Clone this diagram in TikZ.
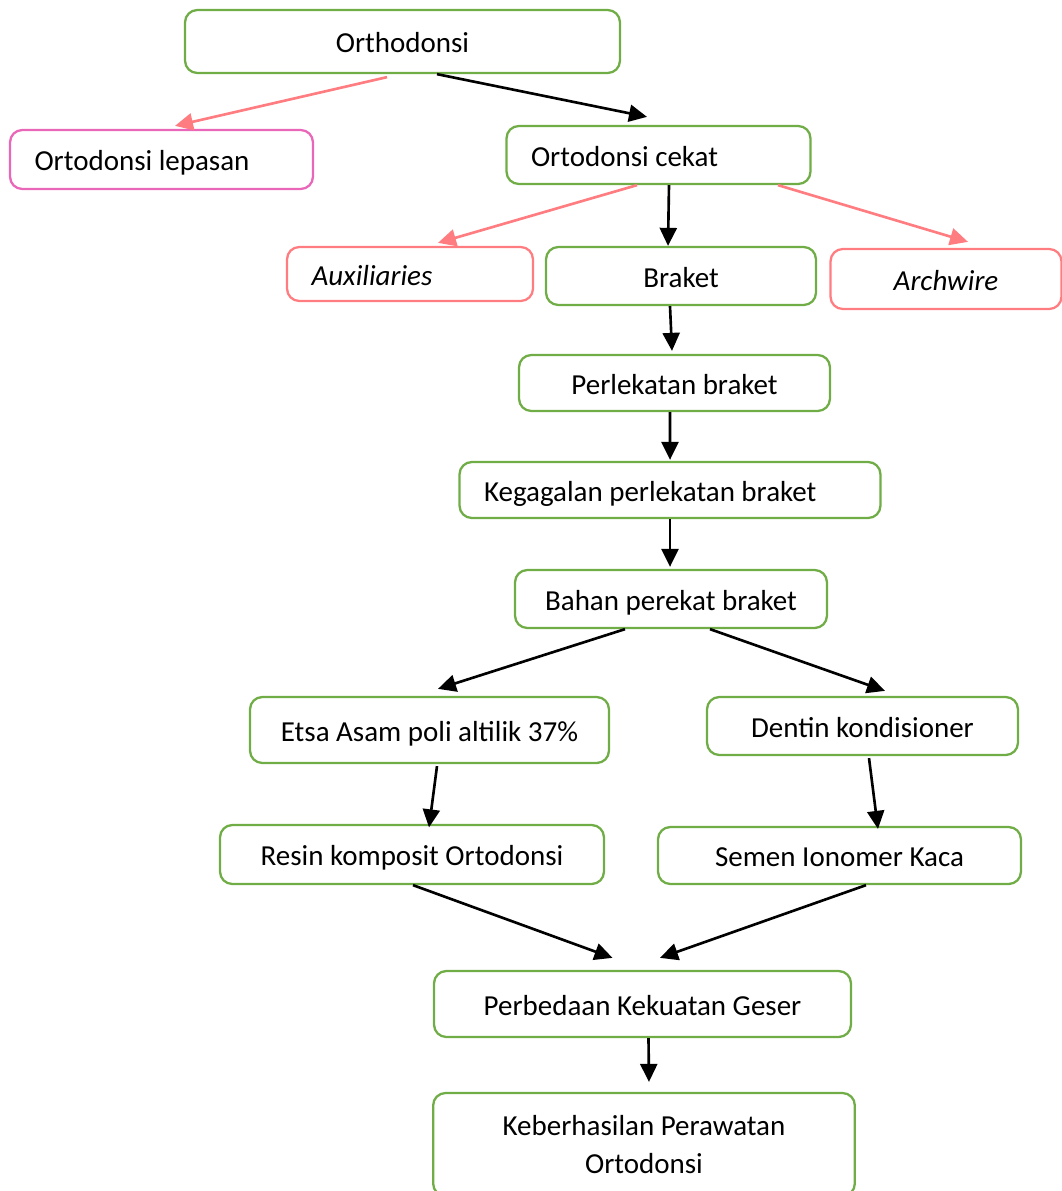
\documentclass[tikz,border=0pt]{standalone}
\usepackage{fontspec}
\setmainfont{Carlito}
\usetikzlibrary{arrows.meta}
\definecolor{hijau}{HTML}{70AD47}
\definecolor{salem}{HTML}{FF7C80}
\definecolor{merahmuda}{HTML}{E966B9}
\begin{document}
\begin{tikzpicture}[x=0.02cm, y=-0.02cm,
		kotak/.style={draw=hijau, line width=1.3pt, rounded corners=7pt, font=\fontsize{16.5}{21.6}\selectfont},
		baris/.style={kotak, text height=1.3em, text depth=0pt},
		kiri/.style={align=flush left, inner xsep=0.49cm},
		panah/.style={-{Triangle[length=0.36cm, width=0.34cm]}, line width=1.5pt},
		panahm/.style={panah, salem}]
	\useasboundingbox (0,0) rectangle (1062,1191);
	% top level
	\node[baris, minimum width=8.7cm, minimum height=1.26cm] (ortho) at (402.5,41.5) {Orthodonsi};
	\node[baris, kiri, draw=merahmuda, text width=5.08cm, minimum height=1.18cm] (lepas) at (161.5,159.5) {Ortodonsi lepasan};
	\node[baris, kiri, text width=5.1cm, minimum height=1.16cm] (cekat) at (658.5,155) {Ortodonsi cekat};
	% parts of the fixed appliance
	\node[baris, kiri, draw=salem, text width=3.94cm, minimum height=1.08cm] (aux) at (410,274) {\itshape Auxiliaries};
	\node[baris, minimum width=5.4cm, minimum height=1.16cm] (braket) at (681,276) {Braket};
	\node[baris, draw=salem, minimum width=4.62cm, minimum height=1.2cm] (arch) at (946,279) {\itshape Archwire};
	% main chain
	\node[baris, minimum width=6.22cm, minimum height=1.12cm] (lekat) at (674.5,383) {Perlekatan braket};
	\node[baris, kiri, text width=7.44cm, minimum height=1.12cm] (gagal) at (670,490) {Kegagalan perlekatan braket};
	\node[baris, minimum width=6.24cm, minimum height=1.16cm] (bahan) at (671,599) {Bahan perekat braket};
	\node[baris, minimum width=7.18cm, minimum height=1.32cm] (etsa) at (429.5,730) {Etsa Asam poli altilik 37\%};
	\node[baris, minimum width=6.22cm, minimum height=1.16cm] (dentin) at (862.5,726) {Dentin kondisioner};
	\node[baris, minimum width=7.68cm, minimum height=1.18cm] (resin) at (412,854.5) {Resin komposit Ortodonsi};
	\node[baris, minimum width=7.26cm, minimum height=1.14cm] (semen) at (839.5,855.5) {Semen Ionomer Kaca};
	\node[baris, minimum width=8.34cm, minimum height=1.32cm] (beda) at (642.5,1004) {Perbedaan Kekuatan Geser};
	\node[kotak, align=flush center, text width=8.2cm, minimum height=2.06cm] (hasil) at (644,1144.5) {Keberhasilan Perawatan\\Ortodonsi};
	% connectors
	\draw[panah] ([xshift=0.69cm]ortho.south) -- ([xshift=-0.23cm, yshift=0.16cm]cekat.north);
	\draw[panahm] ([xshift=-0.31cm, yshift=-0.06cm]ortho.south) -- ([xshift=0.27cm, yshift=0.06cm]lepas.north);
	\draw[panahm] ([xshift=-0.43cm]cekat.south) -- ([xshift=0.56cm, yshift=0.06cm]aux.north);
	\draw[panah] ([xshift=0.21cm]cekat.south) -- ([xshift=-0.26cm]braket.north);
	\draw[panahm] ([xshift=2.39cm]cekat.south) -- ([xshift=0.44cm, yshift=0.12cm]arch.north);
	\draw[panah] ([xshift=-0.22cm]braket.south) -- ([xshift=-0.05cm, yshift=0.06cm]lekat.north);
	\draw[panah] ([xshift=-0.09cm]lekat.south) -- ([yshift=0.02cm]gagal.north);
	\draw[panah] (gagal.south) -- ([xshift=-0.02cm, yshift=0.04cm]bahan.north);
	\draw[panah] ([xshift=-0.92cm]bahan.south) -- ([xshift=0.17cm, yshift=0.14cm]etsa.north);
	\draw[panah] ([xshift=0.78cm]bahan.south) -- ([xshift=0.45cm, yshift=0.1cm]dentin.north);
	\draw[panah] ([xshift=0.15cm, yshift=-0.04cm]etsa.south) -- ([xshift=0.34cm, yshift=-0.07cm]resin.north);
	\draw[panah] ([xshift=0.13cm, yshift=-0.04cm]dentin.south) -- ([xshift=0.77cm, yshift=-0.06cm]semen.north);
	\draw[panah] ([xshift=0.02cm]resin.south) -- ([xshift=-0.6cm, yshift=0.24cm]beda.north);
	\draw[panah] ([xshift=0.53cm]semen.south) -- ([xshift=0.35cm, yshift=0.24cm]beda.north);
	\draw[panah] ([xshift=0.12cm]beda.south) -- ([xshift=0.1cm, yshift=0.2cm]hasil.north);
\end{tikzpicture}
\end{document}
